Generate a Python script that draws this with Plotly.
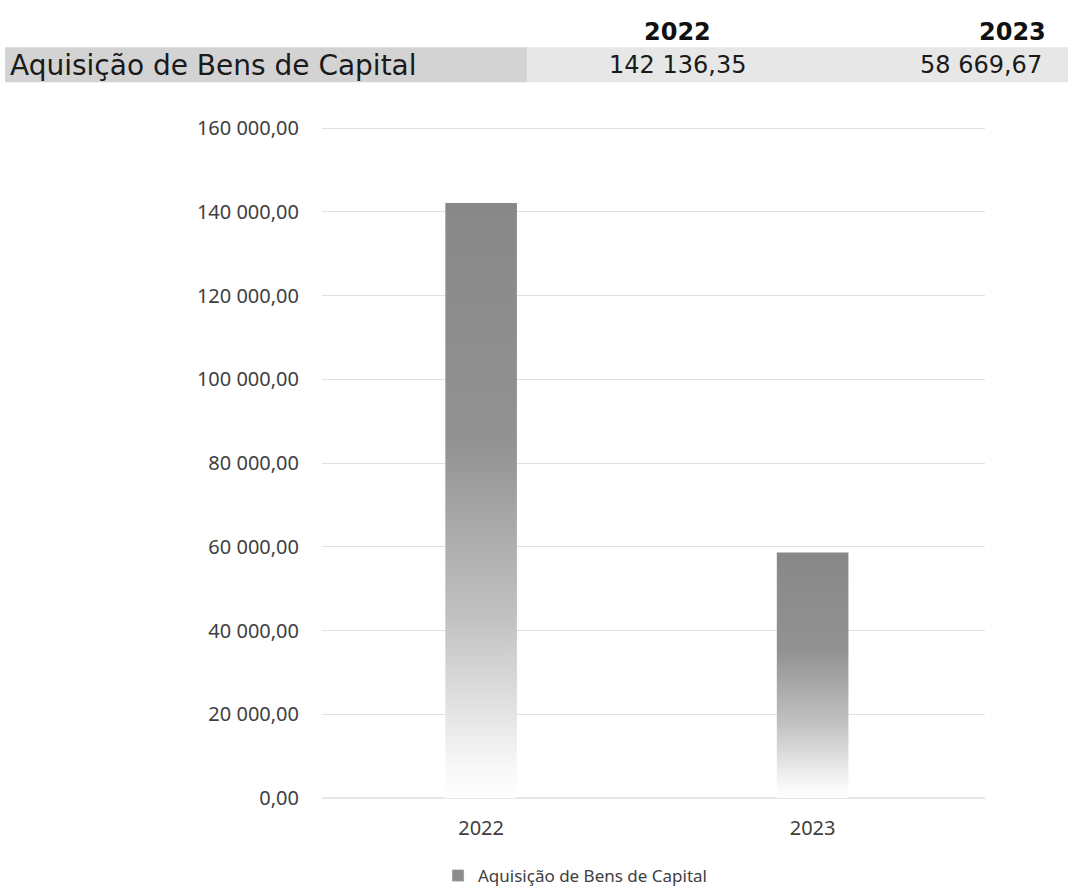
import plotly.graph_objects as go

# ---- data ----
categories = ["2022", "2023"]
values = [142136.35, 58669.67]
series_name = "Aquisição de Bens de Capital"
header_values = ["142 136,35", "58 669,67"]
y_ticks = [0, 20000, 40000, 60000, 80000, 100000, 120000, 140000, 160000]

W, H = 1072, 892
Y_TOP = 161500
L, R, B = 322, 87, 94
PH = 670.0 * Y_TOP / 160000
T = H - B - PH
PW = W - L - R


def px(xp):
    return (xp - L) / PW


def py(yp):
    return (H - B - yp) / PH


fig = go.Figure()

half = 0.108
for i, (c, v) in enumerate(zip(categories, values)):
    fig.add_trace(go.Scatter(
        x=[i - half, i + half, i + half, i - half, i - half],
        y=[0, 0, v, v, 0],
        mode="lines",
        line=dict(width=0),
        fill="toself",
        fillgradient=dict(
            type="vertical",
            colorscale=[[0, "#ffffff"], [0.05, "#f8f8f8"], [0.3, "#c2c2c2"],
                        [0.6, "#929292"], [1, "#888888"]],
        ),
        name=series_name,
        showlegend=False,
        hoverinfo="skip",
    ))

# legend entry
fig.add_trace(go.Bar(x=[None], y=[None], name=series_name,
                     marker=dict(color="#8c8c8c"), showlegend=True))

fig.update_layout(
    width=W, height=H,
    margin=dict(l=L, r=R, t=T, b=B, pad=0, autoexpand=False),
    paper_bgcolor="white", plot_bgcolor="white",
    separators=", ",
    font=dict(family="Noto Sans", size=20, color="#404040"),
    showlegend=True,
    legend=dict(orientation="h", xref="container", yref="container",
                x=575 / W, xanchor="center", y=1 - 876 / H, yanchor="middle",
                font=dict(size=17, color="#404040"), itemwidth=30),
    xaxis=dict(range=[-0.48, 1.52], tickvals=[0, 1], ticktext=categories,
               showgrid=False, zeroline=False, showline=False, ticks="",
               ticklabelstandoff=16, fixedrange=True, automargin=False),
    yaxis=dict(range=[0, Y_TOP], tickvals=y_ticks, tickformat=",.2f",
               showgrid=True, gridcolor="#e0e0e0", gridwidth=1,
               zeroline=True, zerolinecolor="#e6e6e6", showline=False, ticks="",
               ticklabelstandoff=22, fixedrange=True, automargin=False),
)

# header table band
fig.add_shape(type="rect", xref="paper", yref="paper",
              x0=px(5), x1=px(527), y0=py(82), y1=py(47),
              fillcolor="#d3d3d3", line=dict(width=0), layer="below")
fig.add_shape(type="rect", xref="paper", yref="paper",
              x0=px(527), x1=px(1068), y0=py(82), y1=py(47),
              fillcolor="#e7e7e7", line=dict(width=0), layer="below")

hfont = "DejaVu Sans"
fig.add_annotation(xref="paper", yref="paper", x=px(8), y=py(65), xanchor="left", yanchor="middle",
                   text=series_name, showarrow=False,
                   font=dict(family=hfont, size=28, color="#1a1a1a"))
fig.add_annotation(xref="paper", yref="paper", x=px(677), y=py(32), xanchor="center", yanchor="middle",
                   text="<b>" + categories[0] + "</b>", showarrow=False,
                   font=dict(family=hfont, size=24, color="#111111"))
fig.add_annotation(xref="paper", yref="paper", x=px(1048), y=py(32), xanchor="right", yanchor="middle",
                   text="<b>" + categories[1] + "</b>", showarrow=False,
                   font=dict(family=hfont, size=24, color="#111111"))
fig.add_annotation(xref="paper", yref="paper", x=px(677), y=py(65), xanchor="center", yanchor="middle",
                   text=header_values[0], showarrow=False,
                   font=dict(family=hfont, size=24, color="#1a1a1a"))
fig.add_annotation(xref="paper", yref="paper", x=px(1044), y=py(65), xanchor="right", yanchor="middle",
                   text=header_values[1], showarrow=False,
                   font=dict(family=hfont, size=24, color="#1a1a1a"))

fig.write_html("out.html", config={"displayModeBar": False},
               post_script="document.body.style.margin='0';")
